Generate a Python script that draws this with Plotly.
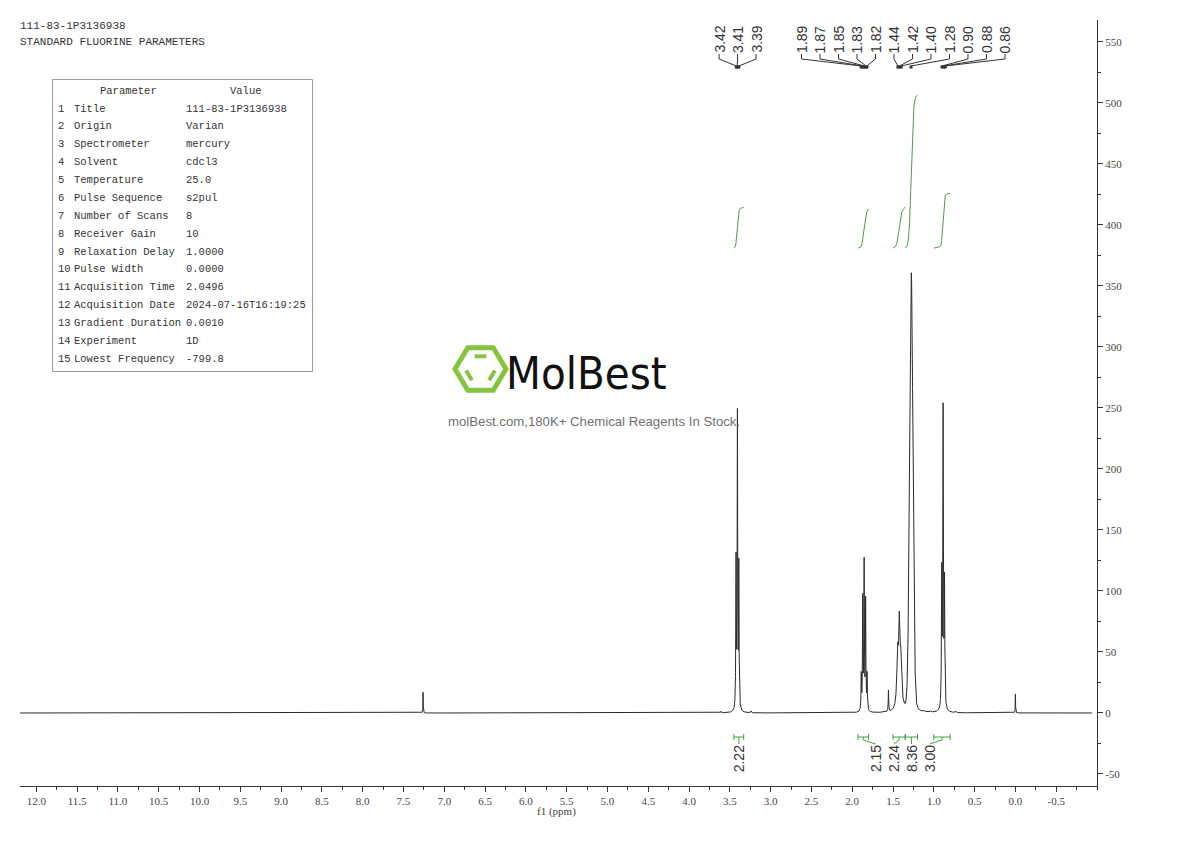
import numpy as np
import plotly.graph_objects as go

# ---------------- data ----------------
header_lines = ["111-83-1P3136938", "STANDARD FLUORINE PARAMETERS"]
param_names = ["Title", "Origin", "Spectrometer", "Solvent", "Temperature",
               "Pulse Sequence", "Number of Scans", "Receiver Gain",
               "Relaxation Delay", "Pulse Width", "Acquisition Time",
               "Acquisition Date", "Gradient Duration", "Experiment",
               "Lowest Frequency"]
param_values = ["111-83-1P3136938", "Varian", "mercury", "cdcl3", "25.0",
                "s2pul", "8", "10", "1.0000", "0.0000", "2.0496",
                "2024-07-16T16:19:25", "0.0010", "1D", "-799.8"]

# resolved lines: position (ppm), height, half width (ppm)
line_ppm = [7.260, 3.610, 3.424, 3.407, 3.390, 3.240,
            1.889, 1.871, 1.854, 1.836, 1.818, 1.556,
            1.443, 1.423, 1.404, 1.276, 1.120, 1.040,
            0.903, 0.886, 0.869, 0.730, 0.000]
line_height = [17.0, 1.2, 121.0, 240.0, 116.0, 1.5,
               29.0, 91.0, 120.0, 89.0, 29.0, 17.5,
               45.0, 59.0, 40.0, 60.0, 1.0, 1.0,
               109.0, 243.0, 101.0, 1.0, 15.5]
line_hwhm = [0.002, 0.004, 0.0035, 0.0035, 0.0035, 0.004,
             0.0035, 0.0035, 0.0035, 0.0035, 0.0035, 0.003,
             0.012, 0.008, 0.012, 0.020, 0.005, 0.005,
             0.004, 0.004, 0.004, 0.005, 0.002]
# unresolved CH2 envelope
env_ppm = [1.276]
env_height = [300.0]
env_sigma = [0.021]

peak_labels = [3.42, 3.41, 3.39, 1.89, 1.87, 1.85, 1.83, 1.82,
               1.44, 1.42, 1.40, 1.28, 0.90, 0.88, 0.86]

integ_from = [3.45, 1.93, 1.50, 1.35, 1.00]
integ_to = [3.33, 1.80, 1.35, 1.20, 0.80]
integ_values = [2.22, 2.15, 2.24, 8.36, 3.00]

x_tick_values = [12.0, 11.5, 11.0, 10.5, 10.0, 9.5, 9.0, 8.5, 8.0, 7.5, 7.0,
                 6.5, 6.0, 5.5, 5.0, 4.5, 4.0, 3.5, 3.0, 2.5, 2.0, 1.5, 1.0,
                 0.5, 0.0, -0.5]
y_tick_values = [-50, 0, 50, 100, 150, 200, 250, 300, 350, 400, 450, 500, 550]

# ---------------- geometry helpers (page pixel positions) ----------------
BODY = 8                       # page margin of the html body
W, H = 1190 - 2 * BODY, 841 - 2 * BODY
PL, PR, PT, PB = 20, 1097, 20, 786
X0, X1 = 12.2, -1.0
Y0, Y1 = -59.84, 568.0


def px_x(px):
    return X0 + (px - PL) / (PR - PL) * (X1 - X0)


def px_y(py):
    return Y0 + (PB - py) / (PB - PT) * (Y1 - Y0)


def dpx_x(d):
    return d * (X0 - X1) / (PR - PL)


def dpx_y(d):
    return d * (Y1 - Y0) / (PB - PT)


def paper_x(px):
    return (px - PL) / (PR - PL)


def paper_y(py):
    return (PB - py) / (PB - PT)


def spread(centers, gap, thresh):
    groups = [[0]]
    for i in range(1, len(centers)):
        if centers[i - 1] - centers[i] < thresh:
            groups[-1].append(i)
        else:
            groups.append([i])
    out = [None] * len(centers)
    for g in groups:
        mid = (centers[g[0]] + centers[g[-1]]) / 2
        n = len(g)
        for k, i in enumerate(g):
            out[i] = mid + ((n - 1) / 2 - k) * gap
    return out


# ---------------- spectrum ----------------
x = np.linspace(12.2, -0.94, 26281)
y = np.zeros_like(x)
for p, h, w in zip(line_ppm, line_height, line_hwhm):
    y += h / (1 + ((x - p) / w) ** 2)
for p, h, s in zip(env_ppm, env_height, env_sigma):
    y += h * np.exp(-0.5 * ((x - p) / s) ** 2)

GREEN = "#45a045"
INK = "#333333"
fig = go.Figure()
fig.add_trace(go.Scatter(x=x, y=y, mode="lines",
                         line=dict(color="#2b2b2b", width=1),
                         hoverinfo="skip", showlegend=False))

# integral curves
INT_BASE = 381.0
INT_SCALE = 15.0
for a, b, v in zip(integ_from, integ_to, integ_values):
    m = (x <= a) & (x >= b)
    xs = x[m]
    cs = np.cumsum(y[m])
    cs = cs / cs[-1]
    fig.add_trace(go.Scatter(x=xs, y=INT_BASE + v * INT_SCALE * cs, mode="lines",
                             line=dict(color=GREEN, width=1),
                             hoverinfo="skip", showlegend=False))

shapes = []
annotations = []

# integration brackets and labels
yb = px_y(737)
cap = dpx_y(3)
centers = [(a + b) / 2 for a, b in zip(integ_from, integ_to)]
lab_x = spread(centers, dpx_x(18), 0.5)
for a, b, v, c, lx in zip(integ_from, integ_to, integ_values, centers, lab_x):
    shapes.append(dict(type="path", xref="x", yref="y",
                       path=f"M {a},{yb-cap} L {a},{yb+cap} M {a},{yb} L {b},{yb} "
                            f"M {b},{yb-cap} L {b},{yb+cap}",
                       line=dict(color=GREEN, width=1)))
    shapes.append(dict(type="path", xref="x", yref="y",
                       path=f"M {c},{yb} L {c},{px_y(740)} L {lx},{px_y(744)}",
                       line=dict(color=GREEN, width=1)))
    annotations.append(dict(x=lx, y=px_y(745), xref="x", yref="y", text=f"{v:.2f}",
                            textangle=-90, xanchor="center", yanchor="top",
                            showarrow=False, borderpad=0, borderwidth=0,
                            font=dict(family="Liberation Sans, Arial", size=14, color=INK)))

# peak labels
pl_x = spread(peak_labels, dpx_x(18.5), 0.5)
for p, lx in zip(peak_labels, pl_x):
    annotations.append(dict(x=lx, y=px_y(53), xref="x", yref="y", text=f"{p:.2f}",
                            textangle=-90, xanchor="center", yanchor="bottom",
                            showarrow=False, borderpad=0, borderwidth=0,
                            font=dict(family="Liberation Sans, Arial", size=14, color=INK)))
    shapes.append(dict(type="path", xref="x", yref="y",
                       path=f"M {lx},{px_y(54)} L {lx},{px_y(59)} L {p},{px_y(66)}",
                       line=dict(color=INK, width=1)))
    shapes.append(dict(type="rect", xref="x", yref="y",
                       x0=p + dpx_x(1.5), x1=p - dpx_x(1.5),
                       y0=px_y(68.5), y1=px_y(65.5),
                       line=dict(width=0), fillcolor=INK))

# top-left header text
for i, t in enumerate(header_lines):
    annotations.append(dict(x=paper_x(20), y=paper_y(26 + 16.5 * i), xref="paper", yref="paper",
                            text=t, xanchor="left", yanchor="middle", showarrow=False,
                            borderpad=0, borderwidth=0,
                            font=dict(family="Liberation Mono", size=11, color=INK)))

# parameter table
shapes.append(dict(type="rect", xref="paper", yref="paper",
                   x0=paper_x(52.5), x1=paper_x(312.5), y0=paper_y(79.5), y1=paper_y(371.5),
                   line=dict(color="#9a9a9a", width=1)))
TFONT = dict(family="Liberation Mono", size=10.5, color=INK)
annotations.append(dict(x=paper_x(128), y=paper_y(90.5), xref="paper", yref="paper",
                        text="Parameter", xanchor="center", yanchor="middle",
                        showarrow=False, borderpad=0, borderwidth=0, font=TFONT))
annotations.append(dict(x=paper_x(246), y=paper_y(90.5), xref="paper", yref="paper",
                        text="Value", xanchor="center", yanchor="middle",
                        showarrow=False, borderpad=0, borderwidth=0, font=TFONT))
for i, (n, v) in enumerate(zip(param_names, param_values)):
    yy = paper_y(108.5 + 17.88 * i)
    for xx, t in ((58, str(i + 1)), (74, n), (186, v)):
        annotations.append(dict(x=paper_x(xx), y=yy, xref="paper", yref="paper",
                                text=t, xanchor="left", yanchor="middle",
                                showarrow=False, borderpad=0, borderwidth=0, font=TFONT))

# x-axis title
annotations.append(dict(x=paper_x(556), y=paper_y(811), xref="paper", yref="paper",
                        text="f1 (ppm)", xanchor="center", yanchor="middle",
                        showarrow=False, borderpad=0, borderwidth=0,
                        font=dict(family="Liberation Serif", size=11, color="#444")))

# watermark logo
LOGO = "#86c440"
cx, cy, rx, ry = 480.5, 369.0, 25.5, 24.5
verts = [(cx + rx * np.cos(np.radians(a)), cy - ry * np.sin(np.radians(a)))
         for a in (0, 60, 120, 180, 240, 300)]
hex_path = "M " + " L ".join(f"{paper_x(vx)},{paper_y(vy)}" for vx, vy in verts) + " Z"
shapes.append(dict(type="path", xref="paper", yref="paper", path=hex_path,
                   line=dict(color=LOGO, width=5)))
for e0, e1 in ((1, 2), (3, 4), (5, 0)):
    (ax, ay), (bx, by) = verts[e0], verts[e1]
    k = 0.6
    ax, ay = cx + (ax - cx) * k, cy + (ay - cy) * k
    bx, by = cx + (bx - cx) * k, cy + (by - cy) * k
    sx, sy = ax + (bx - ax) * 0.12, ay + (by - ay) * 0.12
    ex, ey = ax + (bx - ax) * 0.88, ay + (by - ay) * 0.88
    shapes.append(dict(type="line", xref="paper", yref="paper",
                       x0=paper_x(sx), y0=paper_y(sy), x1=paper_x(ex), y1=paper_y(ey),
                       line=dict(color=LOGO, width=4)))
annotations.append(dict(x=paper_x(586), y=paper_y(373), xref="paper", yref="paper",
                        text="MolBest", xanchor="center", yanchor="middle",
                        showarrow=False, borderpad=0, borderwidth=0,
                        font=dict(family="DejaVu Sans Condensed, Liberation Sans",
                                  size=45, color="#111111")))
annotations.append(dict(x=paper_x(594), y=paper_y(421), xref="paper", yref="paper",
                        text="molBest.com,180K+ Chemical Reagents In Stock.",
                        xanchor="center", yanchor="middle",
                        showarrow=False, borderpad=0, borderwidth=0,
                        font=dict(family="Liberation Sans, Arial", size=13.2, color="#707070")))

TICKFONT = dict(family="Liberation Serif", size=11, color="#444")
fig.update_layout(
    width=W, height=H, autosize=False,
    margin=dict(l=PL - BODY, r=W - (PR - BODY), t=PT - BODY, b=H - (PB - BODY), pad=0),
    paper_bgcolor="white", plot_bgcolor="white",
    showlegend=False,
    shapes=shapes, annotations=annotations,
    xaxis=dict(range=[X0, X1], showgrid=False, zeroline=False,
               showline=True, linecolor="#333", linewidth=1,
               ticks="outside", ticklen=5, tickwidth=1, tickcolor="#333",
               tickvals=x_tick_values, ticktext=[f"{v:.1f}" for v in x_tick_values],
               tickfont=TICKFONT,
               minor=dict(dtick=0.25, tick0=0, ticks="outside", ticklen=3,
                          tickcolor="#333", showgrid=False)),
    yaxis=dict(range=[Y0, Y1], side="right", showgrid=False, zeroline=False,
               showline=True, linecolor="#333", linewidth=1,
               ticks="outside", ticklen=5, tickwidth=1, tickcolor="#333",
               tickvals=y_tick_values, ticktext=[str(v) for v in y_tick_values],
               tickfont=TICKFONT,
               minor=dict(dtick=25, tick0=0, ticks="outside", ticklen=3,
                          tickcolor="#333", showgrid=False)),
)

fig.write_html("out.html")
